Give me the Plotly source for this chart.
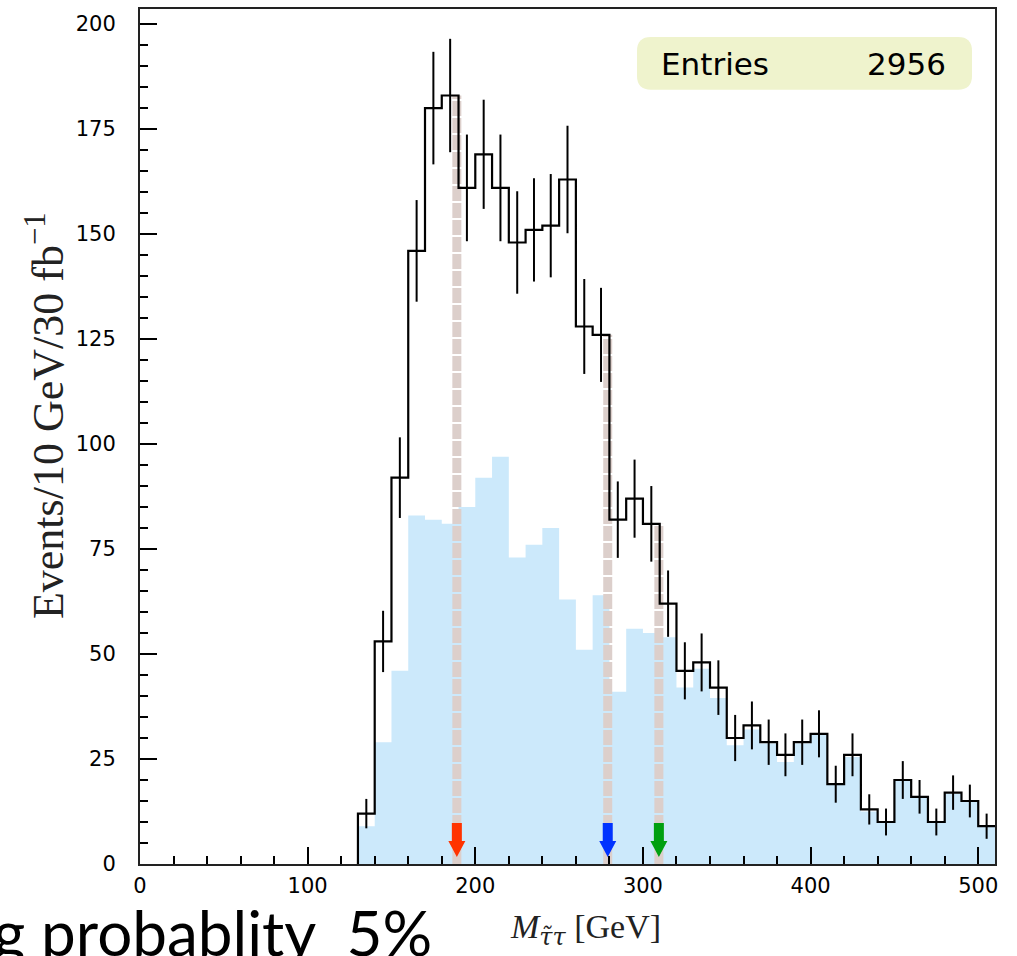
import plotly.graph_objects as go

# ---------------- data ----------------
bin_edges = list(range(130, 520, 10))          # 130 ... 510 GeV, 10 GeV bins
total_counts = [12, 53, 92, 146, 180, 183, 161, 169, 161, 148, 151, 152, 163, 128, 126,
                82, 87, 81, 62, 46, 48, 42, 30, 33, 29, 26, 29, 31, 19, 26,
                13, 10, 20, 16, 10, 17, 15, 9]
total_errors = [3.5, 7.3, 9.6, 12.1, 13.4, 13.5, 12.7, 13.0, 12.7, 12.2, 12.3, 12.3, 12.8, 11.3, 11.2,
                9.1, 9.3, 9.0, 7.9, 6.8, 6.9, 6.5, 5.5, 5.7, 5.4, 5.1, 5.4, 5.6, 4.4, 5.1,
                3.6, 3.2, 4.5, 4.0, 3.2, 4.1, 3.9, 3.0]
filled_counts = [9, 29, 46, 83, 82, 81, 85, 92, 97, 73, 76, 80, 63, 51, 64,
                 41, 56, 55, 54, 42, 46.5, 39.5, 28.3, 32, 28.7, 24.3, 28.7, 31, 18.8, 25.5,
                 12.5, 10, 19.9, 16, 10, 16.7, 14.8, 8.8]
marker_masses = [189, 279, 309.5]
marker_colors = ["#ff3300", "#0033ff", "#00a010"]
entries = 2956
x_ticks = [0, 100, 200, 300, 400, 500]
y_ticks = [0, 25, 50, 75, 100, 125, 150, 175, 200]

# ---------------- figure geometry (pixels) ----------------
W, H = 1017, 956
ML, MR, MT, MB = 140, 22, 7, 92
PW, PH = W - ML - MR, H - MT - MB
X_MAX, Y_MAX = 510, 203.6
px_per_x = PW / X_MAX
px_per_y = PH / Y_MAX


def paper_x(px):
    return (px - ML) / PW


def paper_y(py):
    return (H - MB - py) / PH


x_step = [bin_edges[0]] + bin_edges
y_total = [0] + total_counts + [total_counts[-1]]
y_fill = [0] + filled_counts + [filled_counts[-1]]
centers = [(bin_edges[i] + bin_edges[i + 1]) / 2 for i in range(len(total_counts))]

fig = go.Figure()

# filled (light blue) histogram
fig.add_trace(go.Scatter(x=x_step, y=y_fill, mode="lines", line=dict(width=0, shape="hv"),
                         fill="tozeroy", fillcolor="#cce9fb", hoverinfo="skip"))

# dashed marker lines
for m in marker_masses:
    idx = int((m - bin_edges[0]) // 10)
    top = total_counts[idx]
    fig.add_trace(go.Scatter(x=[m, m], y=[0, top], mode="lines",
                             line=dict(color="#dccfcb", width=9, dash="15px,2px"),
                             hoverinfo="skip"))

# black step histogram
fig.add_trace(go.Scatter(x=x_step, y=y_total, mode="lines",
                         line=dict(color="black", width=2.2, shape="hv"), hoverinfo="skip"))

# error bars
fig.add_trace(go.Scatter(x=centers, y=total_counts, mode="markers",
                         marker=dict(size=1, color="black", opacity=0),
                         error_y=dict(type="data", array=total_errors, visible=True,
                                      width=0, thickness=2, color="black"),
                         hoverinfo="skip"))

# arrows
shapes = []
hw = 5 / px_per_x
hh = 8.5 / px_per_x
top_y = (H - MB - 823) / px_per_y
base_y = (H - MB - 841) / px_per_y
tip_y = (H - MB - 857) / px_per_y
for m, c in zip(marker_masses, marker_colors):
    path = (f"M {m-hw},{top_y} L {m+hw},{top_y} L {m+hw},{base_y} L {m+hh},{base_y} "
            f"L {m},{tip_y} L {m-hh},{base_y} L {m-hw},{base_y} Z")
    shapes.append(dict(type="path", path=path, xref="x", yref="y", fillcolor=c,
                       line=dict(width=0), layer="above"))

# entries box (rounded rectangle, paper coords)
bx0, bx1 = paper_x(637), paper_x(972)
by0, by1 = paper_y(88), paper_y(35)
rx, ry = 14 / PW, 14 / PH
box_path = (f"M {bx0+rx},{by0} L {bx1-rx},{by0} Q {bx1},{by0} {bx1},{by0+ry} "
            f"L {bx1},{by1-ry} Q {bx1},{by1} {bx1-rx},{by1} L {bx0+rx},{by1} "
            f"Q {bx0},{by1} {bx0},{by1-ry} L {bx0},{by0+ry} Q {bx0},{by0} {bx0+rx},{by0} Z")
shapes.append(dict(type="path", path=box_path, xref="paper", yref="paper",
                   fillcolor="#eff3cd", line=dict(width=0), layer="above"))

annotations = [
    dict(text="Entries", x=paper_x(659), y=paper_y(62), xref="paper", yref="paper",
         xanchor="left", yanchor="middle", showarrow=False,
         font=dict(family="DejaVu Sans", size=31, color="black")),
    dict(text=str(entries), x=paper_x(948), y=paper_y(62), xref="paper", yref="paper",
         xanchor="right", yanchor="middle", showarrow=False,
         font=dict(family="DejaVu Sans", size=31, color="black")),
    dict(text="Events/10 GeV/30 fb<sup>\u22121</sup>", x=paper_x(45), y=paper_y(415),
         xref="paper", yref="paper", xanchor="center", yanchor="middle", textangle=-90,
         showarrow=False, font=dict(family="Liberation Serif", size=44, color="#222")),
    dict(text="<i>M</i><sub><span style='font-family:DejaVu Serif'><i>\u03c4\u0303\u03c4</i></span></sub> [GeV]",
         x=paper_x(585), y=paper_y(930),
         xref="paper", yref="paper", xanchor="center", yanchor="middle",
         showarrow=False, font=dict(family="Liberation Serif", size=34, color="#222")),
    dict(text="g probablity\u00a0\u00a05%", x=paper_x(434), y=paper_y(932),
         xref="paper", yref="paper", xanchor="right", yanchor="middle",
         showarrow=False, font=dict(family="Lato", size=62, color="black")),
]

fig.update_layout(
    width=W, height=H,
    margin=dict(l=ML, r=MR, t=MT, b=MB, pad=0),
    paper_bgcolor="white", plot_bgcolor="white",
    showlegend=False,
    shapes=shapes, annotations=annotations,
    xaxis=dict(range=[0, X_MAX], tickvals=x_ticks, ticks="inside", ticklen=17, tickwidth=2,
               tickcolor="black", showline=True, linecolor="#222", linewidth=2, mirror=True,
               showgrid=False, zeroline=False, ticklabelstandoff=2,
               tickfont=dict(family="DejaVu Sans", size=21, color="black"),
               minor=dict(dtick=20, tick0=0, ticks="inside", ticklen=8, tickwidth=2,
                          tickcolor="black", showgrid=False)),
    yaxis=dict(range=[0, Y_MAX], tickvals=y_ticks, ticks="inside", ticklen=17, tickwidth=2,
               tickcolor="black", showline=True, linecolor="#222", linewidth=2, mirror=True,
               showgrid=False, zeroline=False, ticklabelstandoff=18,
               tickfont=dict(family="DejaVu Sans", size=21, color="black"),
               minor=dict(dtick=5, tick0=0, ticks="inside", ticklen=8, tickwidth=2,
                          tickcolor="black", showgrid=False)),
)

fig.write_html("out.html", config={"displayModeBar": False},
               post_script="document.body.style.margin='0px';")
